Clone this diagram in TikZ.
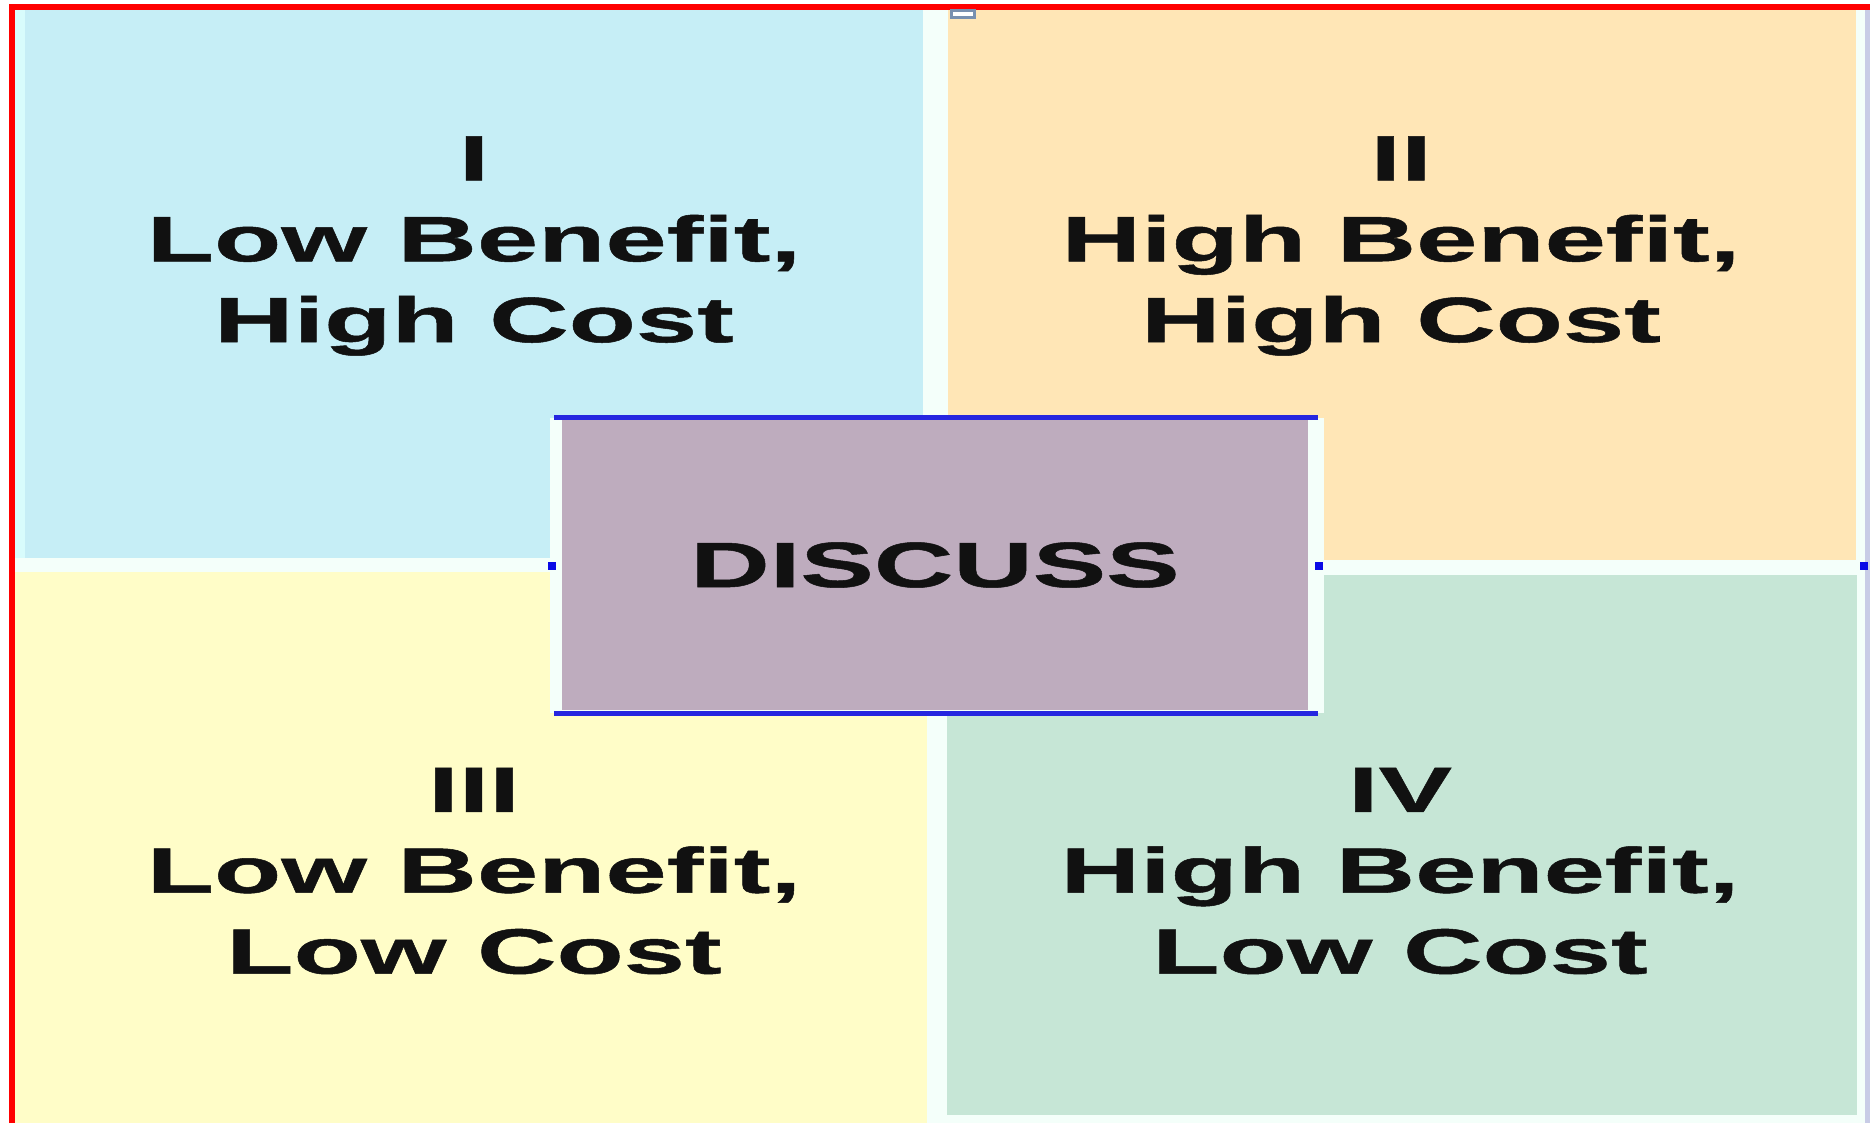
\documentclass[tikz,border=0pt]{standalone}
\usepackage{fontspec}
\newfontfamily\qfont{Liberation Sans}[FakeStretch=1.72,FakeBold=0.8]
\definecolor{cyanq}{HTML}{C6EEF6}
\definecolor{cyanl}{HTML}{D8FCFC}
\definecolor{orangeq}{HTML}{FFE6B6}
\definecolor{yellowq}{HTML}{FFFDC8}
\definecolor{greenq}{HTML}{C6E6D6}
\definecolor{purpleq}{HTML}{BEACBE}
\definecolor{blueln}{HTML}{2626E0}
\definecolor{bluedot}{HTML}{0A0AE6}
\definecolor{redb}{HTML}{FF0000}
\definecolor{lavb}{HTML}{C8CCE6}
\definecolor{handleb}{HTML}{7890B0}
\definecolor{textc}{HTML}{111111}
\definecolor{gapc}{HTML}{F4FFFA}
\tikzset{
  qtext/.style={font=\qfont\bfseries\fontsize{18.2}{23}\selectfont, align=center, inner sep=0pt, text=textc},
  discussbox/.style={rectangle, fill=purpleq, minimum width=7.46cm, minimum height=2.90cm, inner sep=0pt,
    font=\qfont\bfseries\fontsize{18.2}{23}\selectfont, text=textc},
  blueline/.style={draw=blueln, line width=1.4pt},
  bdot/.style={rectangle, fill=bluedot, minimum size=0.08cm, inner sep=0pt},
  handlebox/.style={rectangle, draw=handleb, line width=0.8pt, fill=white, minimum width=0.23cm, minimum height=0.07cm, inner sep=0pt},
  border/.style={draw=redb, line width=1.7pt}
}
\begin{document}
\begin{tikzpicture}[x=0.01cm, y=-0.01cm]
\useasboundingbox (0,0) rectangle (1870,1123);
\fill[gapc] (15,10) rectangle (1865,1123);
% quadrants
\fill[cyanq] (15,10) rectangle (923,558);
\fill[cyanl] (15,10) rectangle (25,558);
\fill[orangeq] (948,10) rectangle (1856,560);
\fill[yellowq] (15,572) rectangle (927,1123);
\fill[greenq] (947,575) rectangle (1857,1115);
% borders
\draw[border] (12,1123) -- (12,7) -- (1870,7);
\draw[draw=lavb, line width=1.2pt] (1867.5,10) -- (1867.5,1123);
% handle at top
\node[handlebox] (handle) at (963,14) {};
% central box
\fill[gapc] (550,418) rectangle (1324,713);
\node[discussbox] (discuss) at (935,565) {DISCUSS};
\draw[blueline] ([xshift=-0.07cm,yshift=0.02cm]discuss.north west) -- ([xshift=0.09cm,yshift=0.02cm]discuss.north east);
\draw[blueline] ([xshift=-0.07cm,yshift=-0.03cm]discuss.south west) -- ([xshift=0.09cm,yshift=-0.03cm]discuss.south east);
\node[bdot] (dl) at (552,566) {};
\node[bdot] (dr) at (1319,566) {};
\node[bdot] (de) at (1864,566) {};
% quadrant texts
\node[qtext] (q1) at (474,246) {I\\Low Benefit,\\High Cost};
\node[qtext] (q2) at (1401,246) {II\\High Benefit,\\High Cost};
\node[qtext] (q3) at (474,871) {III\\Low Benefit,\\Low Cost};
\node[qtext] (q4) at (1400,871) {IV\\High Benefit,\\Low Cost};
\end{tikzpicture}
\end{document}
